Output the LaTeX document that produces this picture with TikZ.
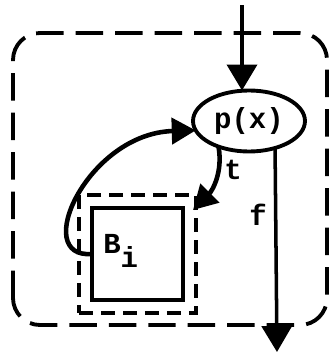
\documentclass[tikz,border=0pt]{standalone}
\usepackage{fontspec}
\setmonofont{Liberation Mono}
\usetikzlibrary{arrows.meta,positioning,shapes.geometric,fit}

\begin{document}
\begin{tikzpicture}[x=0.02cm,y=0.02cm,>={Triangle[length=0.52cm,width=0.6cm]},
  every node/.style={font=\fontsize{16.5}{18}\selectfont\ttfamily\bfseries},
  test/.style={draw,ellipse,line width=2.2pt,minimum width=2.24cm,minimum height=1.22cm,inner sep=0pt,outer sep=0pt},
  blockbox/.style={draw,line width=2.2pt,minimum width=1.82cm,minimum height=1.84cm,outer sep=0pt},
  dashbox/.style={draw,line width=2.2pt,dash pattern=on 0.28cm off 0.16cm},
  curved/.style={->,line width=2.6pt,>={Triangle[length=0.48cm,width=0.52cm]}}]
\useasboundingbox (0,0) rectangle (330,356);
% region of the loop
\draw[line width=2.2pt,dash pattern=on 0.55cm off 0.24cm,rounded corners=0.54cm] (13,31) rectangle (327,323);
\node[test] (p) at (249,235) {p(x)};
\node[blockbox] (sq) at (137.5,102) {};
\node[dashbox,fit=(sq),inner sep=0.26cm] (blk) {};
\node[anchor=base west,inner sep=0pt] (bi) at (103,103) {B\raisebox{-0.3cm}{i}};
\coordinate (in) at (242,351);
\coordinate (out) at (277,4);
\coordinate (tend) at (193,146);
\draw[->,line width=2.2pt] (in) -- (in |- p.north);
\draw[->,line width=2pt] (p.-46) -- (out);
\draw[curved] (p.220) to[out=-80,in=45] (tend);
\draw[curved] (sq.west) .. controls +(-62,-5) and +(-108,-3) .. (p.190);
\node[anchor=base] (tlab) at (233,176) {t};
\node[anchor=base] (flab) at (258,131) {f};
\end{tikzpicture}
\end{document}
